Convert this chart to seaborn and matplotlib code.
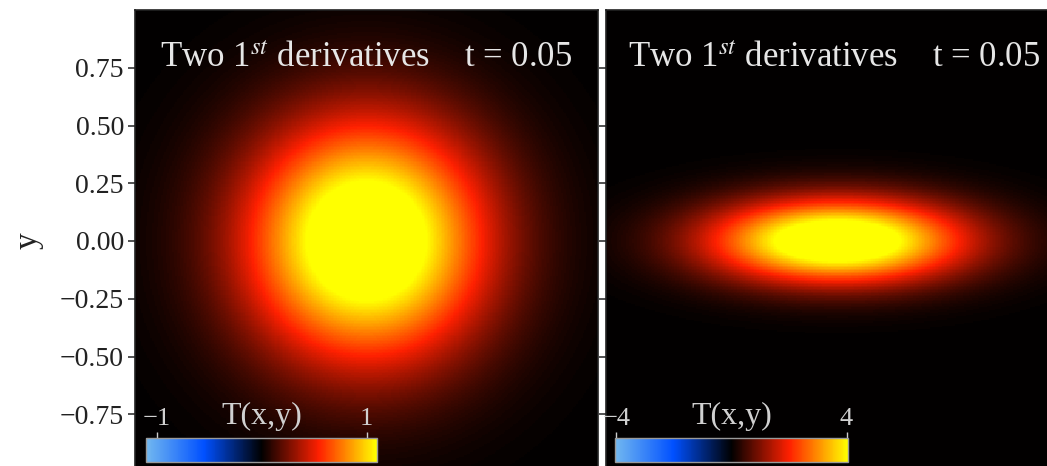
import numpy as np
import pandas as pd
import matplotlib
matplotlib.use("Agg")
import matplotlib.pyplot as plt
from matplotlib.colors import LinearSegmentedColormap, Normalize
from matplotlib.cm import ScalarMappable
import seaborn as sns

# ---- data ----
panel_titles = [r"Two 1$^{st}$ derivatives    t = 0.05", r"Two 1$^{st}$ derivatives    t = 0.05"]
peak_values = [1.42, 5.2]          # peak T in each panel
sigma_x = [0.36, 0.38]             # gaussian widths along x
sigma_y = [0.36, 0.125]            # gaussian widths along y
color_limits = [1.1, 4.05]         # symmetric colour limits
cbar_ticks = [[-1, 1], [-4, 4]]
cbar_ticklabels = [["\u22121", "1"], ["\u22124", "4"]]
y_ticks = [0.75, 0.50, 0.25, 0.00, -0.25, -0.50, -0.75]
y_ticklabels = ["0.75", "0.50", "0.25", "0.00", "\u22120.25", "\u22120.50", "\u22120.75"]
cbar_label = "T(x,y)"
n_cells = 300

cmap = LinearSegmentedColormap.from_list(
    "iceburn_like",
    [(0.0, "#72b8f0"), (0.25, "#0050ff"), (0.5, "#000000"),
     (0.75, "#ff2000"), (1.0, "#ffff00")])

sns.set_theme(style="ticks")
plt.rcParams["font.family"] = ["Liberation Serif", "DejaVu Serif"]
plt.rcParams["mathtext.fontset"] = "stix"

W, H = 1047, 466
fig = plt.figure(figsize=(W / 100, H / 100), dpi=100)

def fx(px):
    return px / W

def fy(px_from_top):
    return (H - px_from_top) / H

ax_w_px, ax_h_px = 463, 462
ax_lefts_px = [135, 606]
cbar_lefts_px = [146, 615]
cbar_widths_px = [231, 233]

coords = np.linspace(1, -1, n_cells + 1)
centers = 0.5 * (coords[:-1] + coords[1:])
xc = centers[::-1]
yc = centers

for i in range(2):
    ax = fig.add_axes([fx(ax_lefts_px[i]), fy(10 + ax_h_px), fx(ax_w_px), ax_h_px / H])
    X, Y = np.meshgrid(xc, yc)
    T = peak_values[i] * np.exp(-X**2 / (2 * sigma_x[i]**2) - Y**2 / (2 * sigma_y[i]**2))
    df = pd.DataFrame(T, index=np.round(yc, 4), columns=np.round(xc, 4))
    lim = color_limits[i]
    sns.heatmap(df, ax=ax, cmap=cmap, vmin=-lim, vmax=lim, cbar=False,
                xticklabels=False, yticklabels=False, rasterized=True)
    for s in ax.spines.values():
        s.set_visible(True)
        s.set_color("#222222")
        s.set_linewidth(1.2)
    pos = [(1 - v) * n_cells / 2 for v in y_ticks]
    ax.set_yticks(pos)
    ax.tick_params(axis="y", direction="out", length=5, width=1.2, color="#333333",
                   pad=3, labelsize=20, labelcolor="#222222", left=True)
    if i == 0:
        ax.set_yticklabels(y_ticklabels)
        ax.set_ylabel("y", fontsize=24, color="#222222", labelpad=12)
    else:
        ax.set_yticklabels([])
        ax.set_ylabel("")
    ax.set_xticks([])
    ax.set_xlabel("")
    ax.text(0.054 if i == 0 else 0.048, 0.876, panel_titles[i], transform=ax.transAxes,
            ha="left", va="baseline", fontsize=25, color="#e6e6e6")

    cax = fig.add_axes([fx(cbar_lefts_px[i]), fy(462), fx(cbar_widths_px[i]), 24 / H])
    sm = ScalarMappable(norm=Normalize(-lim, lim), cmap=cmap)
    cb = fig.colorbar(sm, cax=cax, orientation="horizontal")
    cb.outline.set_edgecolor("#9a9a9a")
    cb.outline.set_linewidth(1.0)
    cb.set_ticks(cbar_ticks[i])
    cb.set_ticklabels(cbar_ticklabels[i])
    cax.xaxis.set_ticks_position("top")
    cax.tick_params(axis="x", direction="out", length=4, width=1, color="#cccccc",
                    labelsize=19, labelcolor="#d0d0d0", pad=2)
    cax.text(0.5, 1.3, cbar_label, transform=cax.transAxes, ha="center", va="bottom",
             fontsize=23, color="#d0d0d0")

fig.savefig("out.png", dpi=100)
